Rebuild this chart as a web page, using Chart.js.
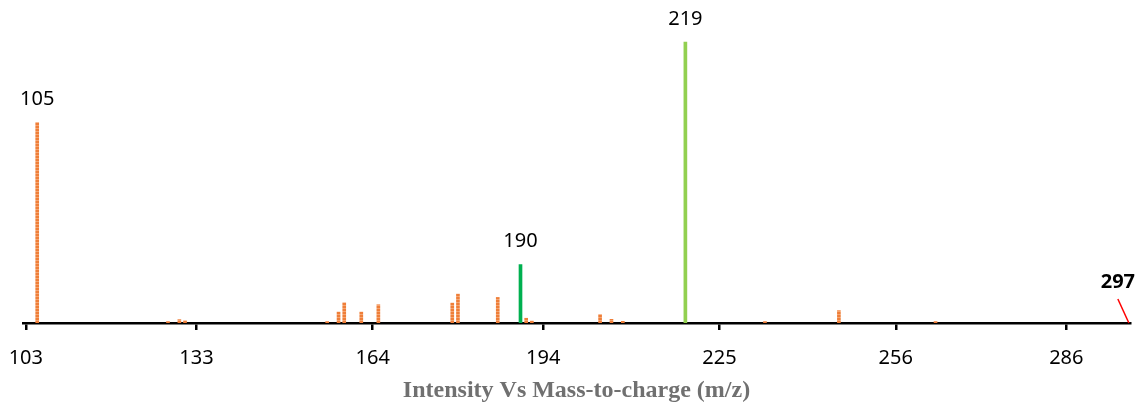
<!DOCTYPE html>
<html>
<head>
<meta charset="utf-8">
<title>Intensity Vs Mass-to-charge (m/z)</title>
<script src="https://cdn.jsdelivr.net/npm/chart.js@4/dist/chart.umd.min.js"></script>
<style>
  html, body { margin: 0; padding: 0; background: #ffffff; }
  #wrap { width: 1146px; height: 409px; }
</style>
</head>
<body>
<div id="wrap"><canvas id="spectrum" width="1146" height="409"></canvas></div>
<script>
// Peak list: m/z and relative intensity (% of base peak)
const mzValues = [105, 128, 130, 131, 156, 158, 159, 162, 165, 178, 179, 186, 190, 191, 192, 204, 206, 208, 219, 233, 246, 263];
const intensities = [71.4, 0.5, 1.2, 0.8, 0.5, 3.9, 7.2, 3.9, 6.5, 7.1, 10.3, 9.1, 20.8, 1.7, 0.7, 3.0, 1.3, 0.6, 100, 0.5, 4.4, 0.5];
// Peaks that carry an m/z label above them
const labelledPeaks = [105, 190, 219];
// Precursor ion marked at the end of the axis
const precursorMz = 297;
// Axis tick labels
const tickValues = [103, 133, 164, 194, 225, 256, 286];
const axisTitle = 'Intensity Vs Mass-to-charge (m/z)';

const ORANGE = '#EF7E38';
const ORANGE_LIGHT = '#F5A571';
const GREEN_DARK = '#00B050';
const GREEN_LIGHT = '#92D050';

// Dotted fill for the minor peaks
function dottedPattern() {
  const c = document.createElement('canvas');
  c.width = 3; c.height = 3;
  const g = c.getContext('2d');
  g.fillStyle = ORANGE;
  g.fillRect(0, 0, 3, 3);
  g.fillStyle = ORANGE_LIGHT;
  g.fillRect(0, 2, 3, 1);
  return g.createPattern(c, 'repeat');
}
const pattern = dottedPattern();

const points = mzValues.map((m, i) => ({ x: m, y: intensities[i] }));
const colours = mzValues.map(m => m === 219 ? GREEN_LIGHT : (m === 190 ? GREEN_DARK : pattern));

const SANS = '"Noto Sans", "Open Sans", sans-serif';

// Writes the m/z above the labelled peaks and marks the precursor
const peakLabels = {
  id: 'peakLabels',
  afterDatasetsDraw(chart) {
    const { ctx, scales: { x, y } } = chart;
    ctx.save();
    ctx.fillStyle = '#000000';
    ctx.font = '20px ' + SANS;
    ctx.textAlign = 'center';
    ctx.textBaseline = 'middle';
    labelledPeaks.forEach(m => {
      const v = intensities[mzValues.indexOf(m)];
      ctx.fillText(String(m), x.getPixelForValue(m), y.getPixelForValue(v) - 23);
    });
    // precursor marker
    const px = x.getPixelForValue(precursorMz);
    const py = y.getPixelForValue(0);
    ctx.strokeStyle = '#FF0000';
    ctx.lineWidth = 1.5;
    ctx.beginPath();
    ctx.moveTo(px, py);
    ctx.lineTo(px - 11, py - 24);
    ctx.stroke();
    ctx.font = 'bold 20px ' + SANS;
    ctx.fillText(String(precursorMz), px - 11, py - 41);
    ctx.restore();
  }
};

new Chart(document.getElementById('spectrum'), {
  type: 'bar',
  data: {
    datasets: [{
      data: points,
      backgroundColor: colours,
      borderWidth: 0,
      barThickness: 3
    }]
  },
  options: {
    responsive: false,
    animation: false,
    devicePixelRatio: 1,
    layout: { padding: { left: 23, right: 16, top: 0, bottom: 0 } },
    plugins: {
      legend: { display: false },
      tooltip: { enabled: false }
    },
    scales: {
      x: {
        type: 'linear',
        offset: false,
        min: 102.5,
        max: 297.2,
        afterBuildTicks(scale) {
          scale.ticks = tickValues.map(v => ({ value: v }));
        },
        afterFit(scale) {
          scale.paddingLeft = 0;
          scale.paddingRight = 0;
          scale.height = 86;
        },
        ticks: {
          autoSkip: false,
          maxRotation: 0,
          padding: 16,
          color: '#000000',
          font: { family: SANS, size: 20 },
          callback: v => String(v)
        },
        grid: {
          display: true,
          drawOnChartArea: false,
          drawTicks: true,
          tickLength: 7,
          color: '#000000',
          lineWidth: 2.5,
          offset: false
        },
        border: { display: true, color: '#000000', width: 2.5 },
        title: {
          display: true,
          text: axisTitle,
          color: '#707070',
          font: { family: '"Liberation Serif", "Times New Roman", serif', size: 24, weight: 'bold' },
          padding: { top: 0, bottom: 4 }
        }
      },
      y: {
        display: false,
        min: 0,
        max: 115
      }
    }
  },
  plugins: [peakLabels]
});
</script>
</body>
</html>
